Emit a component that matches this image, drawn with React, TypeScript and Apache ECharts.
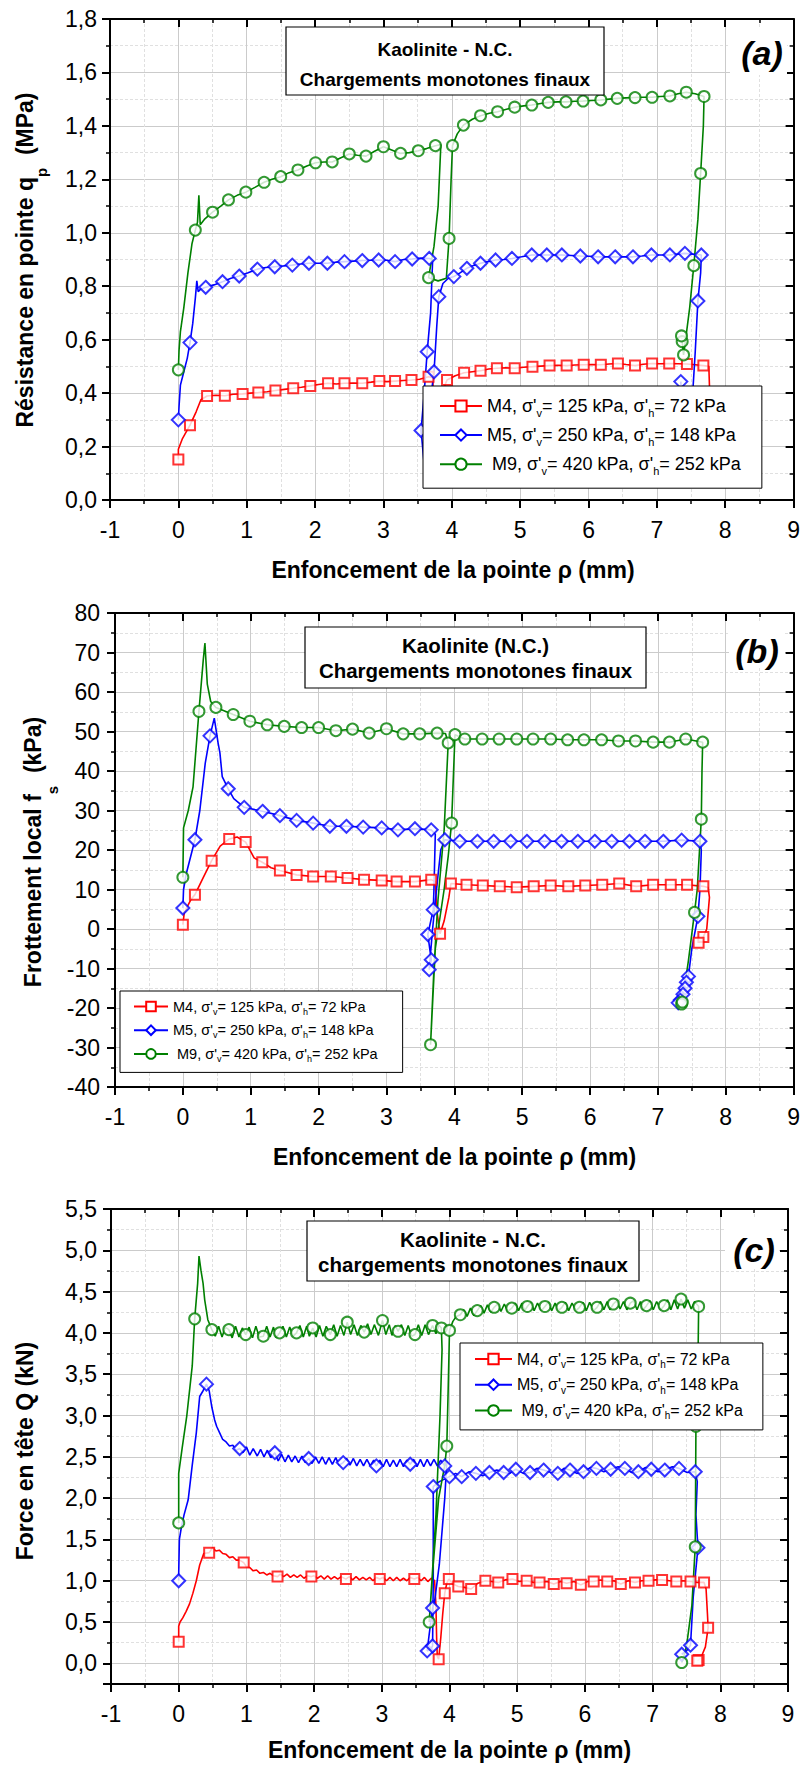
import React, { useEffect, useRef } from "react";
import * as echarts from "echarts";

const FONT = "'Liberation Sans', Arial, Helvetica, sans-serif";

// ---------- Panel (a): Résistance en pointe qp (MPa) ----------  [x, y, marker]
const M4a = [[0,0.152,1],[0.0,0.19],[0.06,0.23],[0.17,0.28,1],[0.26,0.33],[0.33,0.375],[0.42,0.389,1],[0.55,0.392],[0.68,0.39,1],[0.8,0.396],[0.94,0.397,1],[1.05,0.40],[1.17,0.402,1],[1.3,0.405],[1.42,0.41,1],[1.55,0.414],[1.68,0.418,1],[1.8,0.422],[1.93,0.427,1],[2.05,0.432],[2.19,0.437,1],[2.31,0.434],[2.43,0.437,1],[2.56,0.438],[2.69,0.437,1],[2.82,0.441],[2.94,0.445,1],[3.05,0.443],[3.17,0.445,1],[3.29,0.447],[3.41,0.449,1],[3.53,0.452],[3.66,0.461,1],[3.72,0.458],[3.74,0.35],[3.76,0.2],[3.79,0.12],[3.83,0.2],[3.87,0.35],[3.90,0.43],[3.93,0.449,1],[4.05,0.465],[4.18,0.476,1],[4.30,0.48],[4.42,0.484,1],[4.54,0.49],[4.66,0.493,1],[4.79,0.495],[4.92,0.493,1],[5.05,0.497],[5.18,0.499,1],[5.3,0.501],[5.43,0.503,1],[5.55,0.504],[5.68,0.503,1],[5.8,0.505],[5.93,0.506,1],[6.05,0.507],[6.18,0.506,1],[6.3,0.509],[6.43,0.511,1],[6.55,0.507],[6.68,0.503,1],[6.8,0.508],[6.93,0.511,1],[7.05,0.51],[7.18,0.511,1],[7.31,0.51],[7.44,0.509,1],[7.56,0.506],[7.68,0.503,1],[7.76,0.50],[7.77,0.42],[7.76,0.25],[7.7,0.15]];
const M5a = [[0,0.30,1],[0.01,0.35],[0.03,0.43],[0.08,0.48],[0.13,0.53],[0.17,0.589,1],[0.21,0.66],[0.25,0.76],[0.27,0.82],[0.29,0.78],[0.33,0.79],[0.40,0.796,1],[0.52,0.805],[0.646,0.817,1],[0.77,0.83],[0.89,0.838,1],[1.02,0.85],[1.156,0.864,1],[1.28,0.87],[1.41,0.873,1],[1.54,0.876],[1.667,0.879,1],[1.79,0.883],[1.91,0.886,1],[2.04,0.886],[2.18,0.886,1],[2.3,0.89],[2.43,0.892,1],[2.56,0.894],[2.69,0.896,1],[2.81,0.897],[2.93,0.898,1],[3.05,0.897],[3.17,0.892,1],[3.30,0.90],[3.42,0.902,1],[3.55,0.905],[3.67,0.904,1],[3.72,0.90],[3.69,0.70],[3.64,0.555,1],[3.59,0.38],[3.55,0.26,1],[3.59,0.15],[3.63,0.12],[3.66,0.2],[3.70,0.40],[3.74,0.48,1],[3.78,0.65],[3.81,0.761,1],[3.87,0.81],[3.95,0.83],[4.03,0.836,1],[4.12,0.85],[4.22,0.867,1],[4.32,0.878],[4.42,0.886,1],[4.53,0.892],[4.64,0.898,1],[4.76,0.90],[4.88,0.904,1],[5.02,0.91],[5.17,0.917,1],[5.28,0.917],[5.39,0.917,1],[5.5,0.917],[5.61,0.917,1],[5.75,0.915],[5.88,0.913,1],[6.01,0.912],[6.14,0.91,1],[6.27,0.91],[6.39,0.91,1],[6.52,0.91],[6.65,0.91,1],[6.78,0.913],[6.92,0.917,1],[7.05,0.917],[7.19,0.917,1],[7.3,0.92],[7.41,0.923,1],[7.53,0.92],[7.65,0.917,1],[7.64,0.85],[7.60,0.745,1],[7.56,0.55],[7.50,0.30],[7.45,0.15],[7.40,0.2],[7.35,0.443,1]];
const M9a = [[0,0.487,1],[0.01,0.56],[0.03,0.63],[0.08,0.72],[0.14,0.85],[0.2,0.96],[0.248,1.01,1],[0.28,1.04],[0.30,1.14],[0.32,1.03],[0.38,1.05],[0.50,1.077,1],[0.62,1.10],[0.733,1.123,1],[0.86,1.14],[0.987,1.152,1],[1.12,1.17],[1.254,1.189,1],[1.37,1.20],[1.497,1.21,1],[1.62,1.225],[1.749,1.235,1],[1.88,1.25],[2.007,1.262,1],[2.13,1.265],[2.25,1.265,1],[2.37,1.28],[2.50,1.295,1],[2.62,1.29],[2.745,1.287,1],[2.87,1.305],[3.0,1.322,1],[3.12,1.31],[3.25,1.297,1],[3.38,1.30],[3.51,1.307,1],[3.63,1.315],[3.76,1.326,1],[3.84,1.33],[3.80,1.10],[3.74,0.95],[3.66,0.832,1],[3.80,0.82],[3.92,0.83],[3.96,0.979,1],[3.99,1.20],[4.01,1.326,1],[4.08,1.37],[4.17,1.403,1],[4.3,1.425],[4.42,1.438,1],[4.55,1.447],[4.67,1.453,1],[4.8,1.462],[4.92,1.47,1],[5.05,1.475],[5.17,1.478,1],[5.3,1.484],[5.41,1.488,1],[5.55,1.49],[5.67,1.49,1],[5.8,1.492],[5.92,1.493,1],[6.05,1.495],[6.18,1.497,1],[6.3,1.50],[6.42,1.503,1],[6.55,1.505],[6.68,1.506,1],[6.8,1.507],[6.93,1.507,1],[7.05,1.51],[7.19,1.512,1],[7.31,1.52],[7.43,1.526,1],[7.56,1.52],[7.69,1.51,1],[7.68,1.40],[7.64,1.222,1],[7.60,1.05],[7.54,0.877,1],[7.48,0.72],[7.42,0.6],[7.39,0.543,1],[7.37,0.593,1],[7.36,0.614,1]];

// ---------- Panel (b): Frottement local fs (kPa) ----------
const M4b = [[0,1.1,1],[0.02,4],[0.06,5.5],[0.12,7.5],[0.178,8.7,1],[0.3,13],[0.424,17.3,1],[0.55,21],[0.683,22.8,1],[0.8,23.3],[0.925,22.0,1],[1.05,18],[1.17,16.9,1],[1.3,15.5],[1.43,14.8,1],[1.676,13.7,1],[1.92,13.3,1],[2.18,13.3,1],[2.427,12.9,1],[2.67,12.5,1],[2.93,12.3,1],[3.15,12.0,1],[3.42,12.0,1],[3.66,12.5,1],[3.72,12],[3.74,5],[3.79,-1.2,1],[3.85,2],[3.92,8],[3.95,11.5,1],[4.18,11.2,1],[4.42,11.0,1],[4.67,10.8,1],[4.92,10.6,1],[5.17,10.8,1],[5.42,11.0,1],[5.68,10.8,1],[5.93,11.0,1],[6.18,11.2,1],[6.43,11.5,1],[6.68,10.8,1],[6.93,11.2,1],[7.19,11.2,1],[7.43,11.2,1],[7.67,10.8,1],[7.74,10.5],[7.76,8],[7.72,0],[7.67,-2.0,1],[7.60,-3.5,1]];
const M5b = [[0,5.3,1],[0.01,10],[0.05,14],[0.178,22.6,1],[0.25,30],[0.33,42],[0.40,48.9,1],[0.463,53.4],[0.52,47],[0.546,44.6],[0.58,38.6],[0.669,35.5,1],[0.75,33],[0.904,30.8,1],[1.175,29.8,1],[1.43,28.7,1],[1.676,27.5,1],[1.92,26.8,1],[2.166,26.0,1],[2.41,26.0,1],[2.657,25.8,1],[2.93,25.6,1],[3.17,25.1,1],[3.42,25.4,1],[3.66,25.1,1],[3.72,24],[3.70,10],[3.69,4.9,1],[3.61,-1.4,1],[3.66,-7.8,1],[3.63,-10.3,1],[3.68,0],[3.75,12],[3.80,20],[3.86,22.6,1],[4.08,22.2,1],[4.34,22.2,1],[4.58,22.2,1],[4.83,22.2,1],[5.07,22.2,1],[5.33,22.2,1],[5.58,22.2,1],[5.82,22.2,1],[6.07,22.2,1],[6.32,22.2,1],[6.58,22.2,1],[6.81,22.2,1],[7.08,22.2,1],[7.35,22.5,1],[7.62,22.2,1],[7.64,20],[7.62,10],[7.59,3.2,1],[7.5,-5],[7.45,-12,1],[7.42,-13.5,1],[7.40,-15,1],[7.37,-16.5,1],[7.33,-18,1],[7.3,-18.7,1]];
const M9b = [[0,13.1,1],[0.01,25.6],[0.08,30],[0.15,36],[0.237,55.1,1],[0.30,68],[0.325,72.4],[0.36,62],[0.41,57.6],[0.487,56.1,1],[0.742,54.3,1],[0.988,52.6,1],[1.243,51.7,1],[1.494,51.3,1],[1.75,51.0,1],[2.0,51.0,1],[2.255,50.2,1],[2.50,50.6,1],[2.745,49.6,1],[3.0,50.7,1],[3.246,49.4,1],[3.49,49.4,1],[3.747,49.6,1],[3.87,49.5],[3.91,47.1,1],[3.85,25],[3.76,7.4],[3.70,-10],[3.65,-29.3,1],[3.72,-5],[3.85,10],[3.91,18.4],[3.96,26.8,1],[4.01,49.2,1],[4.155,48.1,1],[4.41,48.1,1],[4.66,48.1,1],[4.92,48.1,1],[5.16,48.1,1],[5.42,48.1,1],[5.67,47.9,1],[5.91,47.9,1],[6.17,47.9,1],[6.42,47.6,1],[6.67,47.6,1],[6.93,47.3,1],[7.17,47.3,1],[7.41,48.1,1],[7.66,47.3,1],[7.65,40],[7.64,27.8,1],[7.58,10],[7.54,4.2,1],[7.45,-8],[7.37,-17.5],[7.35,-19.0,1],[7.36,-18.5,1]];

// ---------- Panel (c): Force en tête Q (kN) ----------
const M4c = [[0,0.26,1],[0.0,0.45],[0.02,0.50],[0.06,0.55],[0.11,0.63],[0.16,0.72],[0.21,0.85],[0.26,1.0],[0.31,1.19],[0.37,1.33],[0.45,1.34,1],[0.5,1.40],[0.55,1.36],[0.6,1.37],[0.65,1.33],[0.7,1.32],[0.75,1.28],[0.8,1.29],[0.85,1.25],[0.9,1.25],[0.96,1.22,1],[1.0,1.17],[1.05,1.16],[1.1,1.12],[1.15,1.13],[1.2,1.09],[1.25,1.1],[1.3,1.07],[1.35,1.09],[1.4,1.06],[1.46,1.05,1],[1.5,1.08],[1.55,1.05],[1.6,1.08],[1.65,1.04],[1.7,1.07],[1.75,1.04],[1.8,1.07],[1.85,1.03],[1.9,1.06],[1.96,1.05,1],[2.0,1.06],[2.05,1.03],[2.1,1.06],[2.15,1.02],[2.2,1.06],[2.25,1.02],[2.3,1.05],[2.35,1.02],[2.4,1.05],[2.47,1.02,1],[2.52,1.05],[2.57,1.01],[2.62,1.05],[2.67,1.01],[2.72,1.04],[2.77,1.01],[2.82,1.04],[2.87,1.0],[2.92,1.04],[2.97,1.02,1],[3.02,1.04],[3.07,1.0],[3.12,1.04],[3.17,1.0],[3.22,1.04],[3.27,1.0],[3.32,1.03],[3.37,1.0],[3.42,1.04],[3.48,1.02,1],[3.53,1.04],[3.58,1.0],[3.63,1.04],[3.68,0.99],[3.73,1.03],[3.78,1.0],[3.80,0.7],[3.81,0.3],[3.82,0.08],[3.84,0.05,1],[3.87,0.3],[3.90,0.6],[3.93,0.85,1],[3.96,0.97],[3.99,1.02,1],[4.05,0.96],[4.13,0.93,1],[4.22,0.92],[4.32,0.90,1],[4.42,0.97],[4.53,1.0,1],[4.62,0.99],[4.72,0.98,1],[4.82,1.01],[4.93,1.02,1],[5.03,0.99],[5.14,1.00,1],[5.24,0.98],[5.33,0.98,1],[5.44,0.99],[5.54,0.96,1],[5.64,0.99],[5.73,0.97,1],[5.84,0.99],[5.94,0.95,1],[6.04,0.99],[6.13,0.99,1],[6.23,1.01],[6.33,0.99,1],[6.43,1.0],[6.53,0.96,1],[6.64,1.0],[6.74,0.98,1],[6.84,1.0],[6.94,1.0,1],[7.04,1.01],[7.14,1.01,1],[7.25,1.0],[7.35,0.99,1],[7.45,1.0],[7.56,0.99,1],[7.66,0.98],[7.76,0.98,1],[7.79,0.9],[7.81,0.6],[7.82,0.43,1],[7.78,0.2],[7.72,0.08],[7.68,0.04,1],[7.66,0.03,1]];
const M5c = [[0,1.0,1],[0.0,1.08],[0.01,1.5],[0.04,1.65],[0.08,1.8],[0.14,1.98],[0.2,2.4],[0.26,2.79],[0.31,3.23],[0.36,3.3],[0.41,3.38,1],[0.45,3.30],[0.49,3.1],[0.53,2.95],[0.56,2.87],[0.60,2.80],[0.65,2.71],[0.70,2.68],[0.75,2.63],[0.80,2.64],[0.85,2.58],[0.90,2.60,1],[0.95,2.55],[1.00,2.62],[1.05,2.52],[1.10,2.60],[1.16,2.51],[1.21,2.59],[1.26,2.50],[1.31,2.58],[1.36,2.49],[1.42,2.55,1],[1.47,2.45],[1.52,2.53],[1.57,2.44],[1.62,2.52],[1.67,2.44],[1.72,2.51],[1.77,2.43],[1.82,2.51],[1.87,2.43],[1.92,2.48,1],[1.97,2.42],[2.02,2.50],[2.07,2.42],[2.12,2.50],[2.17,2.41],[2.22,2.49],[2.27,2.41],[2.32,2.49],[2.37,2.40],[2.43,2.43,1],[2.48,2.48],[2.53,2.40],[2.58,2.48],[2.63,2.39],[2.68,2.47],[2.73,2.39],[2.78,2.47],[2.83,2.39],[2.88,2.46],[2.92,2.39,1],[2.97,2.46],[3.02,2.38],[3.07,2.47],[3.12,2.38],[3.17,2.46],[3.22,2.38],[3.27,2.47],[3.32,2.38],[3.37,2.46],[3.42,2.41,1],[3.47,2.47],[3.52,2.38],[3.57,2.47],[3.62,2.38],[3.67,2.47],[3.72,2.39],[3.77,2.47],[3.82,2.39],[3.87,2.46],[3.93,2.39,1],[3.96,2.44],[3.93,2.0],[3.85,1.2],[3.78,0.75],[3.75,0.67,1],[3.70,0.35],[3.67,0.15,1],[3.72,0.17],[3.75,0.21,1],[3.76,1.0],[3.76,2.14,1],[3.85,2.2],[4.0,2.26,1],[4.09,2.30],[4.18,2.26,1],[4.29,2.32],[4.39,2.30,1],[4.49,2.27],[4.59,2.31,1],[4.70,2.34],[4.80,2.31,1],[4.89,2.30],[4.98,2.35,1],[5.09,2.30],[5.19,2.31,1],[5.29,2.36],[5.39,2.34,1],[5.50,2.31],[5.60,2.30,1],[5.69,2.36],[5.78,2.34,1],[5.88,2.30],[5.98,2.32,1],[6.08,2.37],[6.17,2.36,1],[6.28,2.32],[6.38,2.35,1],[6.49,2.38],[6.59,2.36,1],[6.69,2.31],[6.79,2.32,1],[6.89,2.37],[6.98,2.35,1],[7.08,2.32],[7.18,2.34,1],[7.29,2.38],[7.39,2.36,1],[7.51,2.31],[7.63,2.32,1],[7.66,2.2],[7.64,1.8],[7.67,1.40,1],[7.60,0.8],[7.56,0.22,1],[7.5,0.15],[7.43,0.11,1]];
const M9c = [[0,1.70,1],[0.0,2.3],[0.05,2.6],[0.12,3.0],[0.2,3.6],[0.236,4.17,1],[0.28,4.6],[0.30,4.93],[0.33,4.75],[0.36,4.6],[0.384,4.40],[0.43,4.16],[0.49,4.04,1],[0.54,3.96],[0.59,4.08],[0.64,3.95],[0.69,4.07],[0.74,4.04,1],[0.79,3.94],[0.84,4.08],[0.89,3.95],[0.94,4.06],[0.99,3.98,1],[1.04,4.07],[1.09,3.94],[1.14,4.08],[1.19,3.95],[1.25,3.96,1],[1.30,4.08],[1.35,3.95],[1.40,4.07],[1.44,3.94],[1.49,4.0,1],[1.54,4.08],[1.59,3.95],[1.64,4.07],[1.69,3.96],[1.74,4.0,1],[1.79,4.09],[1.84,3.95],[1.89,4.08],[1.93,3.96],[1.98,4.06,1],[2.03,3.95],[2.08,4.09],[2.13,3.96],[2.18,4.08],[2.24,3.98,1],[2.29,4.10],[2.34,3.96],[2.39,4.09],[2.44,3.97],[2.49,4.13,1],[2.54,3.98],[2.59,4.10],[2.64,3.97],[2.69,4.09],[2.74,4.01,1],[2.79,4.11],[2.84,3.98],[2.89,4.10],[2.95,3.97],[3.01,4.15,1],[3.06,3.98],[3.11,4.10],[3.15,3.97],[3.20,4.09],[3.24,4.02,1],[3.29,4.10],[3.34,3.97],[3.39,4.09],[3.44,3.96],[3.49,3.98,1],[3.54,4.10],[3.59,3.97],[3.64,4.10],[3.69,3.98],[3.75,4.09,1],[3.80,3.99],[3.84,4.10],[3.88,4.06,1],[3.89,3.8],[3.86,3.0],[3.80,1.8],[3.74,1.0],[3.70,0.5,1],[3.76,1.2],[3.84,2.0],[3.93,2.4],[3.96,2.63,1],[3.98,3.3],[4.0,4.03,1],[4.05,4.14],[4.10,4.2],[4.16,4.22,1],[4.21,4.28],[4.26,4.20],[4.31,4.30],[4.36,4.21],[4.41,4.27,1],[4.46,4.33],[4.51,4.24],[4.56,4.34],[4.61,4.25],[4.66,4.31,1],[4.71,4.35],[4.76,4.26],[4.81,4.35],[4.86,4.26],[4.92,4.30,1],[4.97,4.36],[5.02,4.27],[5.07,4.36],[5.11,4.27],[5.15,4.32,1],[5.20,4.37],[5.25,4.27],[5.30,4.36],[5.36,4.27],[5.41,4.32,1],[5.46,4.37],[5.51,4.27],[5.56,4.36],[5.61,4.27],[5.66,4.31,1],[5.71,4.37],[5.76,4.27],[5.81,4.36],[5.87,4.27],[5.92,4.31,1],[5.97,4.37],[6.02,4.27],[6.07,4.37],[6.13,4.27],[6.18,4.31,1],[6.23,4.38],[6.28,4.28],[6.33,4.38],[6.37,4.28],[6.42,4.35,1],[6.47,4.39],[6.52,4.29],[6.57,4.38],[6.62,4.28],[6.67,4.36,1],[6.72,4.39],[6.77,4.28],[6.82,4.38],[6.86,4.28],[6.91,4.33,1],[6.96,4.39],[7.01,4.28],[7.06,4.38],[7.12,4.28],[7.17,4.33,1],[7.22,4.40],[7.27,4.28],[7.32,4.40],[7.37,4.29],[7.42,4.41,1],[7.47,4.30],[7.52,4.40],[7.57,4.29],[7.62,4.38],[7.68,4.32,1],[7.67,3.6],[7.64,2.87,1],[7.63,1.41,1],[7.58,0.7],[7.50,0.2],[7.45,0.05],[7.43,0.01,1]];

// ---------- texts ----------
const SERIES_NAMES = ["M4", "M5", "M9"];
const LEGEND_PARTS: Record<string, string[]> = {
  M4: ["M4, σ'", "v", "= 125 kPa, σ'", "h", "= 72 kPa"],
  M5: ["M5, σ'", "v", "= 250 kPa, σ'", "h", "= 148 kPa"],
  M9: [" M9, σ'", "v", "= 420 kPa, σ'", "h", "= 252 kPa"],
};
const X_NAME = "Enfoncement de la pointe ρ (mm)";
const Y_NAMES = [
  ["Résistance en pointe q", "p", "  (MPa)"],
  ["Frottement local f", "s", "  (kPa)"],
  ["Force en tête Q (kN)", "", ""],
];
const BOX_TITLES = [
  "Kaolinite - N.C.\nChargements monotones finaux",
  "Kaolinite (N.C.)\nChargements monotones finaux",
  "Kaolinite - N.C.\nchargements monotones finaux",
];
const PANEL_LABELS = ["(a)", "(b)", "(c)"];

const COLORS: Record<string, string> = { M4: "#ff0000", M5: "#0000ff", M9: "#008000" };
const SYMBOLS: Record<string, string> = { M4: "emptyRect", M5: "emptyDiamond", M9: "emptyCircle" };
const SIZES: Record<string, number> = { M4: 10, M5: 13, M9: 11 };

const GRIDS = [
  { left: 110, top: 19, width: 686, height: 481 },
  { left: 115, top: 613, width: 679, height: 474 },
  { left: 111, top: 1209, width: 677, height: 475 },
];

function buildSeries(panel: number, name: string, pts: number[][]) {
  const color = COLORS[name];
  return [
    {
      type: "line", name, xAxisIndex: panel * 2, yAxisIndex: panel * 2,
      data: pts.map((p) => [p[0], p[1]]),
      symbol: SYMBOLS[name], symbolSize: SIZES[name], showSymbol: false,
      lineStyle: { color, width: 1.6 }, itemStyle: { color },
      silent: true, z: 2,
    },
    {
      type: "scatter", name: name + "-pts-" + panel, xAxisIndex: panel * 2, yAxisIndex: panel * 2,
      data: pts.filter((p) => p[2] === 1).map((p) => [p[0], p[1]]),
      symbol: SYMBOLS[name], symbolSize: SIZES[name],
      itemStyle: { color, borderColor: color, borderWidth: 1.6 },
      silent: true, z: 3,
    },
  ];
}

const axisLine = { show: true, onZero: false, lineStyle: { color: "#000", width: 2 } };
const tick = (inside: boolean) => ({ show: true, inside, length: 8, lineStyle: { color: "#000", width: 2 } });
const minorTick = { show: true, splitNumber: 2, length: 4, lineStyle: { color: "#000", width: 1.5 } };
const splitLine = { show: true, lineStyle: { color: "#cbcbcb", width: 1 } };
const minorSplitLine = { show: true, lineStyle: { color: "#e0e0e0", width: 1, type: [3, 2] } };
const noSplit = { show: false };

function xAxes(gi: number) {
  const base = { type: "value", gridIndex: gi, min: -1, max: 9, interval: 1, axisLine, minorTick };
  return [
    { ...base, position: "bottom", axisTick: tick(false), splitLine, minorSplitLine,
      axisLabel: { show: true, color: "#000", fontSize: 23, fontFamily: FONT, margin: 18, formatter: (v: number) => String(v) } },
    { ...base, position: "top", axisTick: tick(true), splitLine: noSplit, minorSplitLine: noSplit, axisLabel: { show: false } },
  ];
}

function yAxes(gi: number, range: any, fmt: (v: number) => string, margin: number) {
  const base = { type: "value", gridIndex: gi, ...range, axisLine, minorTick };
  return [
    { ...base, position: "left", axisTick: tick(false), splitLine, minorSplitLine,
      axisLabel: { show: true, color: "#000", fontSize: 23, fontFamily: FONT, margin, formatter: fmt } },
    { ...base, position: "right", axisTick: tick(true), splitLine: noSplit, minorSplitLine: noSplit, axisLabel: { show: false } },
  ];
}

const comma1 = (v: number) => v.toFixed(1).replace(".", ",");
const halfOnly = (v: number) => (Math.abs(v * 2 - Math.round(v * 2)) < 1e-6 ? comma1(v) : "");

function legendFor(left: number, top: number, itemWidth: number, itemHeight: number, gap: number, padding: number[], fs: number, lh: number, sfs: number, slh: number) {
  return {
    show: true, orient: "vertical", left, top, data: SERIES_NAMES, selectedMode: false,
    itemWidth, itemHeight, itemGap: gap, padding,
    borderColor: "#000", borderWidth: 1, backgroundColor: "#fff", borderRadius: 0,
    formatter: (name: string) => {
      const p = LEGEND_PARTS[name];
      return `{t|${p[0]}}{s|${p[1]}}{t|${p[2]}}{s|${p[3]}}{t|${p[4]}}`;
    },
    textStyle: {
      color: "#000",
      rich: {
        t: { fontSize: fs, fontFamily: FONT, lineHeight: lh, color: "#000" },
        s: { fontSize: sfs, fontFamily: FONT, lineHeight: slh, verticalAlign: "bottom", color: "#000" },
      },
    },
  };
}

function yName(i: number, x: number, y: number, mainLH: number) {
  const [a, b, c] = Y_NAMES[i];
  const text = b ? `{m|${a}}{s|${b}}{m|${c}}` : `{m|${a}}`;
  return {
    type: "text", x, y, rotation: Math.PI / 2, z: 20,
    style: {
      text, align: "center", verticalAlign: "middle", fill: "#000",
      rich: {
        m: { fontSize: 23, fontWeight: "bold", fontFamily: FONT, lineHeight: mainLH, fill: "#000" },
        s: { fontSize: 15, fontWeight: "bold", fontFamily: FONT, lineHeight: 20, verticalAlign: "bottom", fill: "#000" },
      },
    },
  };
}

function xName(x: number, y: number) {
  return { type: "text", x, y, z: 20, style: { text: X_NAME, align: "center", verticalAlign: "middle", fill: "#000", fontSize: 23, fontWeight: "bold", fontFamily: FONT } };
}

function titleBox(i: number, r: number[], cx: number, cy: number, fs: number, lh: number) {
  return [
    { type: "rect", z: 20, shape: { x: r[0], y: r[1], width: r[2], height: r[3] }, style: { fill: "#fff", stroke: "#000", lineWidth: 1.2 } },
    { type: "text", z: 21, x: cx, y: cy, style: { text: BOX_TITLES[i], align: "center", verticalAlign: "middle", fill: "#000", fontSize: fs, fontWeight: "bold", fontFamily: FONT, lineHeight: lh } },
  ];
}

function panelLabel(i: number, r: number[], cx: number, cy: number) {
  return [
    { type: "rect", z: 20, shape: { x: r[0], y: r[1], width: r[2], height: r[3] }, style: { fill: "#fff" } },
    { type: "text", z: 21, x: cx, y: cy, style: { text: PANEL_LABELS[i], align: "center", verticalAlign: "middle", fill: "#000", fontSize: 34, fontWeight: "bold", fontStyle: "italic", fontFamily: FONT } },
  ];
}

export default function App() {
  const ref = useRef<HTMLDivElement>(null);
  useEffect(() => {
    if (!ref.current) return;
    const chart = echarts.init(ref.current, null, { renderer: "svg" });
    const option: any = {
      animation: false,
      backgroundColor: "#fff",
      grid: GRIDS.map((g) => ({ ...g, containLabel: false })),
      xAxis: [...xAxes(0), ...xAxes(1), ...xAxes(2)],
      yAxis: [
        ...yAxes(0, { min: 0, max: 1.8, interval: 0.2 }, comma1, 13),
        ...yAxes(1, { min: -40, max: 80, interval: 10 }, (v: number) => String(v), 15),
        ...yAxes(2, { min: -0.25, max: 5.5, splitNumber: 11, minInterval: 0.5, maxInterval: 0.5 }, halfOnly, 14),
      ],
      legend: [
        legendFor(423, 386, 42, 14, 8.1, [11, 21, 12, 16], 18, 24, 11, 10),
        legendFor(120, 991, 34, 12, 6.7, [8, 25, 9, 13], 14.5, 19, 9, 8),
        legendFor(460, 1343, 37, 13, 7.2, [8, 20, 9, 14], 16, 21, 10, 9),
      ],
      series: [
        ...buildSeries(0, "M4", M4a), ...buildSeries(0, "M5", M5a), ...buildSeries(0, "M9", M9a),
        ...buildSeries(1, "M4", M4b), ...buildSeries(1, "M5", M5b), ...buildSeries(1, "M9", M9b),
        ...buildSeries(2, "M4", M4c), ...buildSeries(2, "M5", M5c), ...buildSeries(2, "M9", M9c),
      ],
      graphic: [
        yName(0, 25, 260, 48), yName(1, 33, 852, 54), yName(2, 25, 1451, 30),
        xName(453, 570), xName(454.5, 1157), xName(449.5, 1750),
        ...titleBox(0, [286, 27, 318, 68], 445, 64, 19, 30),
        ...titleBox(1, [305, 627, 341, 61], 475.5, 658, 20.5, 25.7),
        ...titleBox(2, [307, 1221, 332, 60], 473, 1252, 20.5, 25.7),
        ...panelLabel(0, [730, 28, 57, 47], 762, 53),
        ...panelLabel(1, [729, 622, 56, 46], 757, 651),
        ...panelLabel(2, [725, 1218, 54, 50], 754, 1250),
      ],
    };
    chart.setOption(option);
    return () => chart.dispose();
  }, []);
  return <div ref={ref} style={{ position: "absolute", left: 0, top: 0, width: 803, height: 1767 }} />;
}
